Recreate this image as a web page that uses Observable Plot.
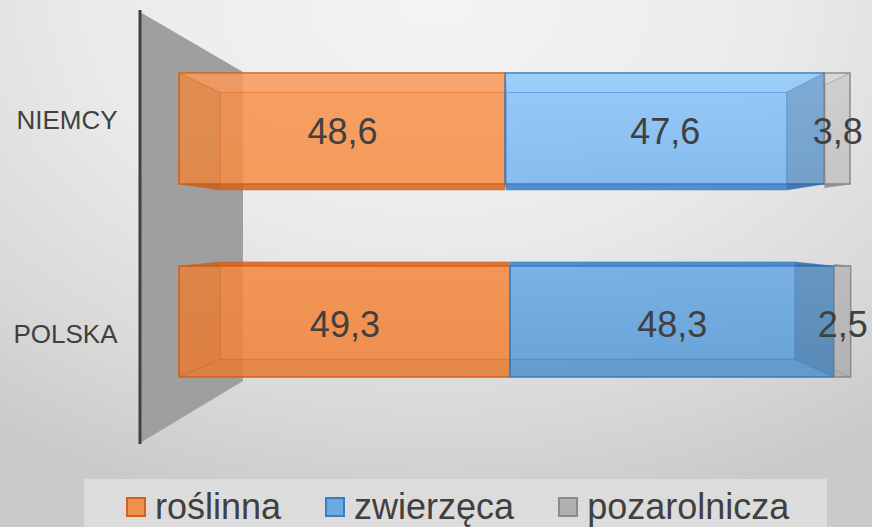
<!DOCTYPE html>
<html>
<head>
<meta charset="utf-8">
<script src="https://cdn.jsdelivr.net/npm/d3@7"></script>
<script src="https://cdn.jsdelivr.net/npm/@observablehq/plot@0.6"></script>
<style>
  html, body { margin: 0; padding: 0; }
  #wrap {
    position: relative; width: 872px; height: 527px; overflow: hidden;
    background: radial-gradient(ellipse 85% 100% at 50% 0%, #f4f4f4 0%, #ebebeb 45%, #d8d8d8 80%, #cacaca 100%);
    font-family: "Liberation Sans", Arial, sans-serif;
  }
  #chart { position: absolute; left: 0; top: 0; }
  #legend {
    position: absolute; left: 84px; top: 479px; width: 743px; height: 48px;
    box-sizing: border-box; padding-top: 8px; padding-left: 42px;
    background: #dcdcdc; display: flex; align-items: center;
  }
  .item { display: flex; align-items: center; margin-right: 44px; }
  .sw { width: 20px; height: 20px; box-sizing: border-box; border: 2px solid; }
  .lab { margin-left: 9px; font-size: 36px; line-height: 36px; color: #404040; white-space: nowrap; }
</style>
</head>
<body>
<div id="wrap">
  <div id="chart"></div>
  <div id="legend"></div>
</div>
<script>
// ---- data ----
const categories = ["NIEMCY", "POLSKA"];
const series = ["roślinna", "zwierzęca", "pozarolnicza"];
const valuesNiemcy = [48.6, 47.6, 3.8];
const valuesPolska = [49.3, 48.3, 2.5];
const valuesByCategory = [valuesNiemcy, valuesPolska];

// ---- styles ----
const topColors = ["#f8924a", "#87c4fb", "#d4d4d4"];
const bottomColors = ["#f28135", "#5498d6", "#b4b4b4"];
const strokeColors = ["#d4631a", "#3a7dc6", "#8c8c8c"];
const rightFaceShade = [0.04, 0.14, 0.03];
const legendFill = ["#f0904f", "#6fa8dc", "#b0b0b0"];
const textColor = "#404040";
const fmt = v => v.toFixed(1).replace(".", ",");

// stacked table built from the data arrays
const stacked = categories.flatMap((c, i) => {
  let acc = 0;
  return series.map((s, j) => {
    const v = valuesByCategory[i][j];
    const r = {category: c, series: s, si: j, value: v, x1: acc, x2: acc + v};
    acc += v;
    return r;
  });
});

function defsMark(index, scales) {
  const sy = scales.y;
  const bw = sy.bandwidth();
  const ya = sy(categories[0]), yb = sy(categories[categories.length - 1]) + bw;
  const defs = d3.create("svg:defs");
  series.forEach((s, j) => {
    const lg = defs.append("linearGradient").attr("id", "g" + j)
      .attr("gradientUnits", "userSpaceOnUse")
      .attr("x1", 0).attr("x2", 0).attr("y1", ya).attr("y2", yb);
    lg.append("stop").attr("offset", 0).attr("stop-color", topColors[j]);
    lg.append("stop").attr("offset", 1).attr("stop-color", bottomColors[j]);
  });
  return defs.node();
}

function wallMark(index, scales) {
  const x0 = scales.x(0);
  const [r0, r1] = scales.y.range();
  const g = d3.create("svg:g");
  const xb = x0 - 39, xf = x0 + 64;
  g.append("polygon")
    .attr("points", [[xb, r0 - 61], [xf, r0 - 1], [xf, r1 + 3], [xb, r1 + 65]].map(p => p.join(",")).join(" "))
    .attr("fill", "#9f9f9f");
  g.append("line").attr("x1", xb).attr("x2", xb).attr("y1", r0 - 63).attr("y2", r1 + 66)
    .attr("stroke", "#404040").attr("stroke-width", 3);
  return g.node();
}

function facesMark(index, scales) {
  const sx = scales.x, sy = scales.y;
  const bw = sy.bandwidth();
  const cy = categories.map(c => sy(c) + bw / 2);
  const vpx = sx(50);
  const vpy = (cy[0] + cy[cy.length - 1]) / 2 + 8;
  const s = 0.878;
  const bx = v => vpx + (v - vpx) * s, by = v => vpy + (v - vpy) * s;
  const P = pts => pts.map(p => p.join(",")).join(" ");
  const g = d3.create("svg:g");
  stacked.forEach((d, k) => {
    const fx1 = sx(d.x1), fx2 = sx(d.x2), fy1 = sy(d.category), fy2 = fy1 + bw;
    const bl = bx(fx1), br = bx(fx2), bt = by(fy1), bb = by(fy2);
    const id = "clipseg" + k;
    g.append("clipPath").attr("id", id).append("rect")
      .attr("x", fx1).attr("y", fy1 - 30).attr("width", fx2 - fx1).attr("height", bw + 60);
    const seg = g.append("g").attr("clip-path", `url(#${id})`);
    const dark = strokeColors[d.si];
    // top face
    seg.append("polygon").attr("points", P([[fx1, fy1], [fx2, fy1], [br, bt], [bl, bt]]))
      .attr("fill", bt > fy1 ? "#fff" : dark).attr("fill-opacity", bt > fy1 ? 0.07 : 0.85);
    // bottom face
    seg.append("polygon").attr("points", P([[fx1, fy2], [fx2, fy2], [br, bb], [bl, bb]]))
      .attr("fill", bb < fy2 ? "#000" : dark).attr("fill-opacity", bb < fy2 ? 0.04 : 0.85);
    // left face
    if (bl > fx1) seg.append("polygon").attr("points", P([[fx1, fy1], [bl, bt], [bl, bb], [fx1, fy2]]))
      .attr("fill", "#000").attr("fill-opacity", 0.04);
    // right face
    if (br < fx2) seg.append("polygon").attr("points", P([[fx2, fy1], [br, bt], [br, bb], [fx2, fy2]]))
      .attr("fill", "#000").attr("fill-opacity", rightFaceShade[d.si]);
    // edges
    seg.append("path")
      .attr("d", `M${bl},${bt}H${br}V${bb}H${bl}Z M${fx1},${fy1}L${bl},${bt} M${fx2},${fy1}L${br},${bt} M${fx1},${fy2}L${bl},${bb} M${fx2},${fy2}L${br},${bb}`)
      .attr("fill", "none").attr("stroke", dark).attr("stroke-opacity", 0.45).attr("stroke-width", 1.2);
  });
  return g.node();
}

const plot = Plot.plot({
  width: 872,
  height: 478,
  marginLeft: 179,
  marginRight: 22,
  marginTop: 0,
  marginBottom: 0,
  style: {background: "transparent", fontFamily: "'Liberation Sans', Arial, sans-serif", overflow: "visible"},
  x: {domain: [0, 100], axis: null},
  y: {domain: categories, range: [73, 378], paddingInner: 0.424, paddingOuter: 0, axis: null},
  color: {type: "identity"},
  marks: [
    defsMark,
    wallMark,
    Plot.barX(stacked, {
      x1: "x1", x2: "x2", y: "category",
      fill: d => `url(#g${d.si})`,
      fillOpacity: 0.85,
      stroke: d => strokeColors[d.si],
      strokeWidth: 1.5
    }),
    facesMark,
    Plot.text(stacked, {
      x: d => (d.x1 + d.x2) / 2, y: "category",
      text: d => fmt(d.value),
      fontSize: 36, fill: textColor, dy: 3
    }),
    Plot.text([categories[0]], {
      y: d => d, frameAnchor: "left", textAnchor: "end", dx: -62, dy: -8.5,
      text: d => d, fontSize: 26, fill: textColor
    }),
    Plot.text([categories[1]], {
      y: d => d, frameAnchor: "left", textAnchor: "end", dx: -62, dy: 13,
      text: d => d, fontSize: 26, fill: textColor
    })
  ]
});
document.getElementById("chart").appendChild(plot);

// legend (HTML, below the chart area)
const legend = document.getElementById("legend");
series.forEach((s, j) => {
  const item = document.createElement("div");
  item.className = "item";
  const sw = document.createElement("div");
  sw.className = "sw";
  sw.style.background = legendFill[j];
  sw.style.borderColor = strokeColors[j];
  const lab = document.createElement("span");
  lab.className = "lab";
  lab.textContent = s;
  item.appendChild(sw);
  item.appendChild(lab);
  legend.appendChild(item);
});
</script>
</body>
</html>
